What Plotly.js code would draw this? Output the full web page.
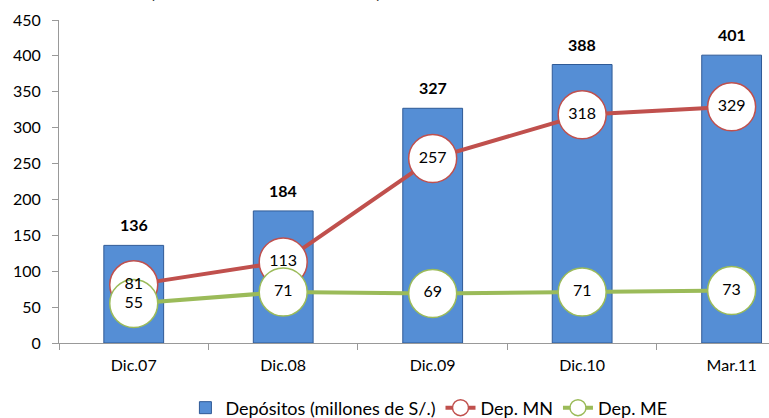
<!DOCTYPE html>
<html><head><meta charset="utf-8">
<script src="https://cdn.plot.ly/plotly-3.0.1.min.js"></script>
<style>html,body{margin:0;padding:0;background:#fff}#chart{width:769px;height:418px}</style>
</head><body><div id="chart"></div>
<script>
var categories = ['Dic.07','Dic.08','Dic.09','Dic.10','Mar.11'];
var depositos = [136, 184, 327, 388, 401];
var depMN = [81, 113, 257, 318, 329];
var depME = [55, 71, 69, 71, 73];
var titleText = '(En millones de nuevos soles)';

var FONT = 'Lato, "Open Sans", sans-serif';
var red = '#C0504D', green = '#9BBB59';

var traces = [
  {type:'bar', x:categories, y:depositos, name:'Depósitos (millones de S/.)', width:0.4,
   marker:{color:'#558ED5', line:{color:'#2F5A96', width:1}}, hoverinfo:'skip'},
  {type:'scatter', mode:'lines+markers', x:categories, y:depMN, name:'Dep. MN',
   line:{color:red, width:4}, marker:{size:48, color:'#fff', line:{color:red, width:1.5}}},
  {type:'scatter', mode:'lines+markers', x:categories, y:depME, name:'Dep. ME',
   line:{color:green, width:4}, marker:{size:48, color:'#fff', line:{color:green, width:1.5}}},
  {type:'scatter', mode:'text', x:categories, y:depMN, text:depMN.map(String), showlegend:false,
   textposition:'middle center', textfont:{family:FONT, size:16, color:'#000'}, hoverinfo:'skip'},
  {type:'scatter', mode:'text', x:categories, y:depME, text:depME.map(String), showlegend:false,
   textposition:'middle center', textfont:{family:FONT, size:16, color:'#000'}, hoverinfo:'skip'}
];

var annotations = depositos.map(function(v, i){
  return {x:categories[i], y:v, xref:'x', yref:'y', text:'<b>'+v+'</b>', showarrow:false,
          yanchor:'bottom', yshift:9, font:{family:FONT, size:16, color:'#000'}};
});
annotations.push({x:0.2915, y:1, xref:'paper', yref:'paper', text:'<b>'+titleText+'</b>', showarrow:false,
  xanchor:'center', yanchor:'middle', yshift:29, font:{family:FONT, size:18, color:'#000'}});

var layout = {
  width:769, height:418,
  margin:{l:59, r:0, t:20, b:75, autoexpand:false},
  paper_bgcolor:'#fff', plot_bgcolor:'#fff',
  showlegend:true,
  font:{family:FONT, size:16, color:'#000'},
  annotations:annotations,
  xaxis:{type:'category', range:[-0.5, 4.25], showline:true, linecolor:'#999', linewidth:1,
         ticks:'outside', tickson:'boundaries', ticklen:6, tickcolor:'#999', showgrid:false,
         ticklabelstandoff:8, tickfont:{family:FONT, size:16, color:'#000'}, fixedrange:true},
  yaxis:{range:[0,450], dtick:50, showline:true, linecolor:'#999', linewidth:1,
         ticks:'outside', ticklen:6, tickcolor:'#999', showgrid:false, zeroline:false,
         ticklabelstandoff:8, tickfont:{family:FONT, size:16, color:'#000'}, fixedrange:true},
  legend:{orientation:'h', x:0.521, xanchor:'center', yref:'container', y:0.024, yanchor:'middle',
          font:{family:FONT, size:18, color:'#000'}, traceorder:'normal'},
  bargap:0.6
};
Plotly.newPlot('chart', traces, layout, {displayModeBar:false, staticPlot:true});
</script></body></html>
